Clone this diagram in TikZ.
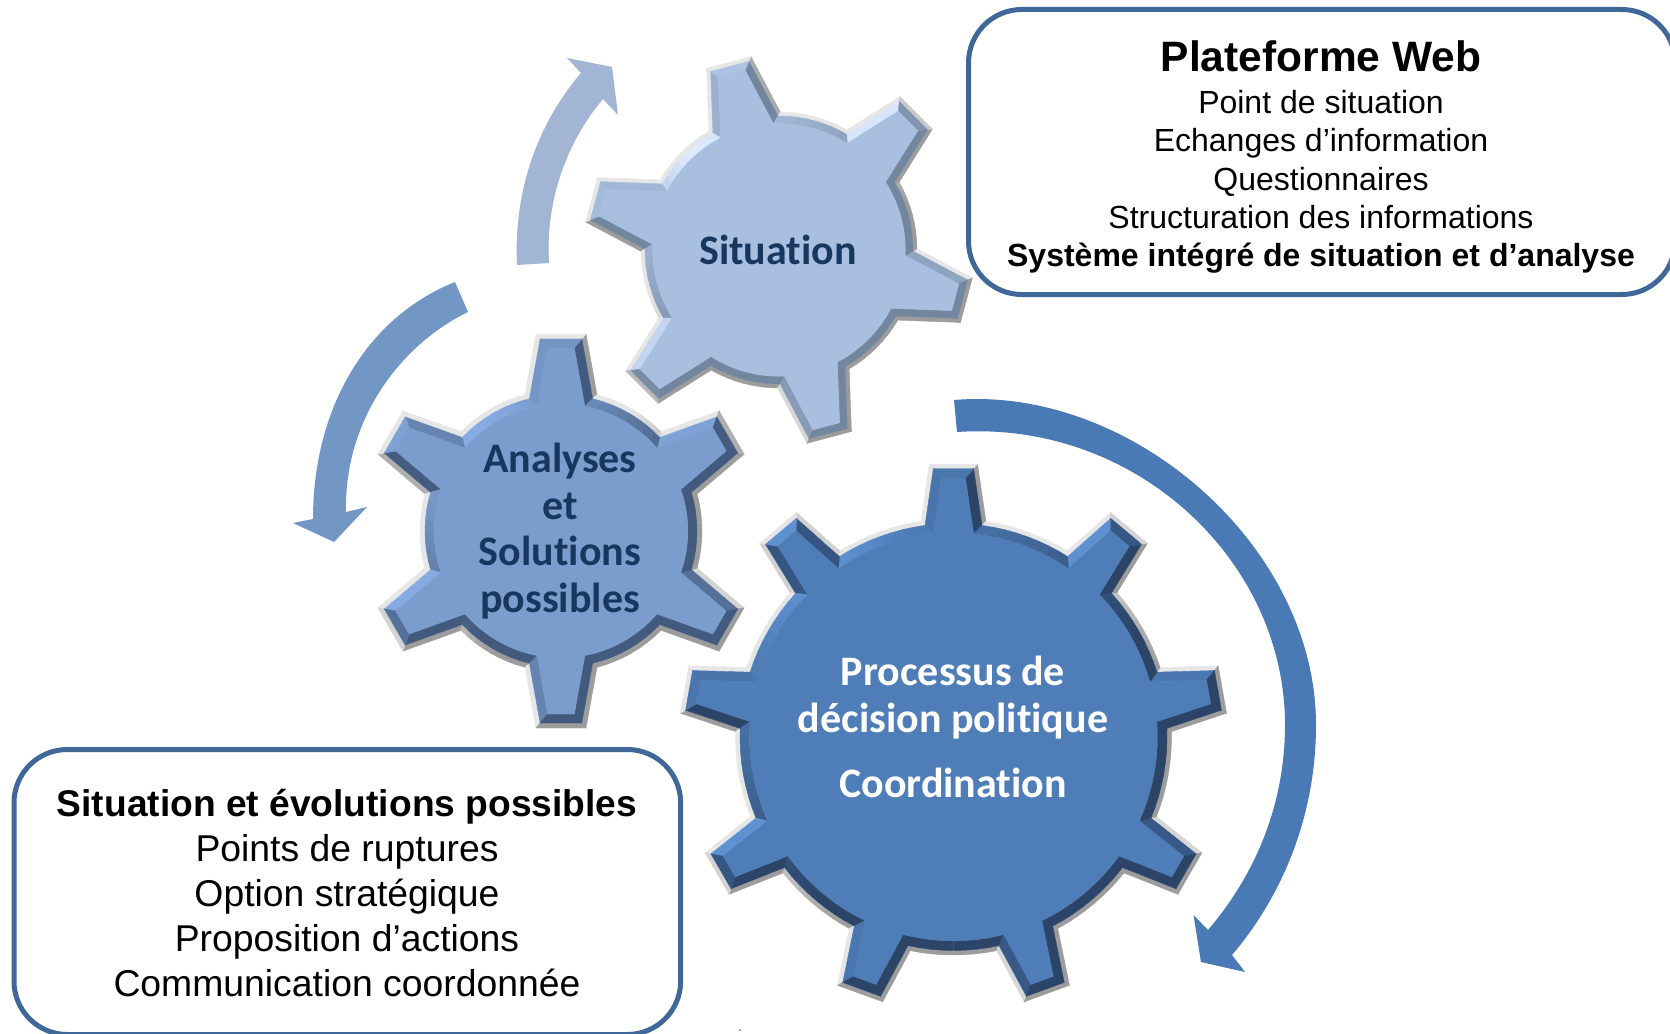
\documentclass[tikz,border=0pt]{standalone}
\usepackage{fontspec}
\setmainfont{Liberation Sans}
\newfontfamily\calfont[Ligatures=CommonOff]{Carlito}
\definecolor{boxline}{HTML}{3F6797}
\definecolor{navy}{HTML}{17375E}
\definecolor{arrA}{HTML}{4A7AB5}
\definecolor{arrB}{HTML}{7397C5}
\definecolor{arrC}{HTML}{A2B5D4}
\definecolor{faceA}{HTML}{4E7DB7}
\definecolor{hiA}{HTML}{5F90D0}
\definecolor{dkA}{HTML}{2B4468}
\definecolor{faceB}{HTML}{7B9DCE}
\definecolor{hiB}{HTML}{86ABE2}
\definecolor{dkB}{HTML}{425A7E}
\definecolor{faceC}{HTML}{A9BFE0}
\definecolor{hiC}{HTML}{DCEAFF}
\definecolor{dkC}{HTML}{73869F}
\definecolor{rimW}{HTML}{E6E6E6}
\definecolor{rimG}{HTML}{9C9C9C}
\tikzset{
  infobox/.style={draw=boxline,line width=3pt,rounded corners=32pt,fill=white,inner sep=0pt},
  geartext/.style={font=\calfont\bfseries\fontsize{25.2}{28}\selectfont,align=center,text=navy,inner sep=0pt},
  boxtext/.style={align=center,inner sep=0pt},
}
\newcommand{\gearlayer}[2]{%
  \pgfmathsetmacro{\gs}{(\gWb-\gWt)/(\gRt-sqrt(\gR*\gR-\gWb*\gWb))}%
  \pgfmathsetmacro{\gq}{sqrt(1+\gs*\gs)}%
  \pgfmathsetmacro{\tmpTU}{\gRt-#1}%
  \pgfmathsetmacro{\tmpTV}{\gWt+\gs*#1-#1*\gq}%
  \pgfmathsetmacro{\tmpR}{\gR-#1}%
  \pgfmathsetmacro{\tmpV}{\gWb-#1*\gq}%
  \pgfmathsetmacro{\tmpU}{sqrt(\tmpR*\tmpR-\tmpV*\tmpV)}%
  \pgfmathsetmacro{\tmpV}{\gWt+\gs*(\gRt-\tmpU)-#1*\gq}%
  \pgfmathsetmacro{\tmpU}{sqrt(\tmpR*\tmpR-\tmpV*\tmpV)}%
  \pgfmathsetmacro{\tmpD}{atan2(\tmpV,\tmpU)}%
  \expandafter\global\expandafter\let\csname TU#2\endcsname\tmpTU
  \expandafter\global\expandafter\let\csname TV#2\endcsname\tmpTV
  \expandafter\global\expandafter\let\csname RR#2\endcsname\tmpR
  \expandafter\global\expandafter\let\csname VV#2\endcsname\tmpV
  \expandafter\global\expandafter\let\csname UU#2\endcsname\tmpU
  \expandafter\global\expandafter\let\csname DL#2\endcsname\tmpD
}
\newcommand{\bevelcol}[1]{%
  \pgfmathsetmacro{\cc}{cos(#1-130)}%
  \pgfmathparse{\cc>0.9?1:0}%
  \ifnum\pgfmathresult=1
    \pgfmathsetmacro{\mmx}{min(100,(\cc-0.9)*1000)}%
    \colorlet{cur}{gHi!\mmx!gFace}%
  \else
    \pgfmathsetmacro{\mmx}{min(100,(0.9-\cc)/1.1*100*\gDk)}%
    \colorlet{cur}{gDkc!\mmx!gFace}%
  \fi
  \pgfmathsetmacro{\mmx}{max(0,min(100,(0.35-\cc)/0.7*100))}%
  \colorlet{curr}{rimG!\mmx!rimW}%
}
\newcommand{\quadfill}[5]{\fill[#1,draw=#1,line width=.25pt] #2 -- #3 -- #4 -- #5 -- cycle;}
\newcommand{\gearring}[3]{%
  \foreach \k in {1,...,\gN}{%
    \pgfmathsetmacro{\ang}{\gPhase+(\k-1)*360/\gN}%
    \begin{scope}[rotate=\ang]
      \pgfmathsetmacro{\nn}{90-atan(\gs)}%
      \bevelcol{\ang+\nn}%
      \quadfill{#3}{(\csname UU#1\endcsname,\csname VV#1\endcsname)}{(\csname TU#1\endcsname,\csname TV#1\endcsname)}{(\csname TU#2\endcsname,\csname TV#2\endcsname)}{(\csname UU#2\endcsname,\csname VV#2\endcsname)}
      \bevelcol{\ang-\nn}%
      \quadfill{#3}{(\csname UU#1\endcsname,-\csname VV#1\endcsname)}{(\csname TU#1\endcsname,-\csname TV#1\endcsname)}{(\csname TU#2\endcsname,-\csname TV#2\endcsname)}{(\csname UU#2\endcsname,-\csname VV#2\endcsname)}
      \bevelcol{\ang}%
      \quadfill{#3}{(\csname TU#1\endcsname,\csname TV#1\endcsname)}{(\csname TU#1\endcsname,-\csname TV#1\endcsname)}{(\csname TU#2\endcsname,-\csname TV#2\endcsname)}{(\csname TU#2\endcsname,\csname TV#2\endcsname)}
      \pgfmathsetmacro{\Da}{360/\gN}%
      \pgfmathsetmacro{\oA}{\csname DL#1\endcsname}%
      \pgfmathsetmacro{\oB}{\csname DL#2\endcsname}%
      \pgfmathsetmacro{\sA}{(\Da-2*\oA)/8}%
      \pgfmathsetmacro{\sB}{(\Da-2*\oB)/8}%
      \foreach \i in {0,...,7}{%
        \pgfmathsetmacro{\midA}{\oA+(\i+0.5)*\sA}%
        \bevelcol{\ang+\midA}%
        \pgfmathsetmacro{\aA}{\oA+\i*\sA}\pgfmathsetmacro{\aB}{\oA+(\i+1)*\sA}%
        \pgfmathsetmacro{\bA}{\oB+\i*\sB}\pgfmathsetmacro{\bB}{\oB+(\i+1)*\sB}%
        \quadfill{#3}{(\aA:\csname RR#1\endcsname)}{(\aB:\csname RR#1\endcsname)}{(\bB:\csname RR#2\endcsname)}{(\bA:\csname RR#2\endcsname)}
      }%
    \end{scope}%
  }%
}
\newcommand{\gear}[1]{%
  \begin{scope}[shift={#1}]
    \gearlayer{0}{a}\gearlayer{\gRim}{b}\gearlayer{\gBev}{c}%
    \gearring{a}{b}{curr}%
    \gearring{b}{c}{cur}%
    \fill[gFace] (0,0) circle (\RRc);
    \foreach \k in {1,...,\gN}{%
      \pgfmathsetmacro{\ang}{\gPhase+(\k-1)*360/\gN}%
      \fill[gFace,draw=gFace,line width=.25pt,rotate=\ang] (0,0) -- (\UUc,\VVc) -- (\TUc,\TVc) -- (\TUc,-\TVc) -- (\UUc,-\VVc) -- cycle;
    }%
  \end{scope}%
}
\begin{document}
\begin{tikzpicture}[x=60pt,y=60pt]
\useasboundingbox (0,0) rectangle (16.7,-10.34);
\clip (0,0) rectangle (16.7,-10.34);
\fill[white] (0,0) rectangle (16.7,-10.34);

% arrows
\fill[arrC] (5.17,-2.65) .. controls (5.13,-1.80) and (5.45,-1.15) .. (5.81,-0.73)
  -- (5.67,-0.58) -- (6.12,-0.67) -- (6.18,-1.15) -- (6.03,-0.99)
  .. controls (5.68,-1.40) and (5.45,-2.00) .. (5.49,-2.63) -- cycle;
\fill[arrB] (4.55,-2.82) .. controls (3.65,-3.18) and (3.13,-4.10) .. (3.13,-5.19)
  -- (2.93,-5.23) -- (3.34,-5.42) -- (3.67,-5.07) -- (3.46,-5.12)
  .. controls (3.44,-4.20) and (4.00,-3.45) .. (4.68,-3.12) -- cycle;
\fill[arrA] (9.54,-4.00) .. controls (11.30,-3.85) and (13.16,-5.45) .. (13.16,-7.25)
  .. controls (13.16,-8.15) and (12.83,-8.95) .. (12.32,-9.55)
  -- (12.45,-9.72) -- (12.01,-9.62) -- (11.935,-9.15) -- (12.08,-9.30)
  .. controls (12.55,-8.75) and (12.85,-8.05) .. (12.85,-7.25)
  .. controls (12.85,-5.60) and (11.35,-4.20) .. (9.57,-4.32) -- cycle;

% gears
\def\gN{6}\def\gPhase{105}\def\gR{1.38}\def\gRt{1.94}\def\gWb{0.37}\def\gWt{0.23}
\def\gRim{0.04}\def\gBev{0.115}\def\gDk{1}
\colorlet{gFace}{faceC}\colorlet{gHi}{hiC}\colorlet{gDkc}{dkC}
\gear{(7.79,-2.50)}
\def\gN{6}\def\gPhase{90}\def\gR{1.41}\def\gRt{1.97}\def\gWb{0.36}\def\gWt{0.25}
\def\gRim{0.05}\def\gBev{0.14}\def\gDk{1}
\colorlet{gFace}{faceB}\colorlet{gHi}{hiB}\colorlet{gDkc}{dkB}
\gear{(5.61,-5.31)}
\def\gN{9}\def\gPhase{90}\def\gR{2.18}\def\gRt{2.73}\def\gWb{0.325}\def\gWt{0.24}
\def\gRim{0.045}\def\gBev{0.14}\def\gDk{1}
\colorlet{gFace}{faceA}\colorlet{gHi}{hiA}\colorlet{gDkc}{dkA}
\gear{(9.535,-7.37)}

% gear labels
\node[geartext] (sit) at (7.78,-2.50) {Situation};
\node[geartext] (ana) at (5.60,-5.31) {Analyses\\et\\Solutions\\possibles};
\node[geartext,text=white] (proc) at (9.53,-7.27) {Processus de\\décision politique\\[11pt]Coordination};

% boxes
\node[infobox,minimum width=424pt,minimum height=171pt,anchor=north west] (web) at (9.66,-0.07) {};
\node[boxtext,font=\fontsize{19.2}{23}\selectfont] (webt) at (13.21,-1.57) {%
  {\fontsize{25.5}{26}\selectfont\bfseries Plateforme Web}\\[2.5pt]
  Point de situation\\
  Echanges d’information\\
  Questionnaires\\
  Structuration des informations\\
  {\bfseries Système intégré de situation et d’analyse}};
\node[infobox,minimum width=400pt,minimum height=171pt,anchor=north west] (sitbox) at (0.115,-7.47) {};
\node[boxtext,font=\fontsize{22.4}{27}\selectfont] (sitt) at (3.47,-8.93) {%
  {\bfseries\fontsize{22.3}{27}\selectfont Situation et évolutions possibles}\\
  Points de ruptures\\Option stratégique\\Proposition d’actions\\Communication coordonnée};
\fill[black!70] (7.40,-10.30) circle (0.008);
\end{tikzpicture}
\end{document}
